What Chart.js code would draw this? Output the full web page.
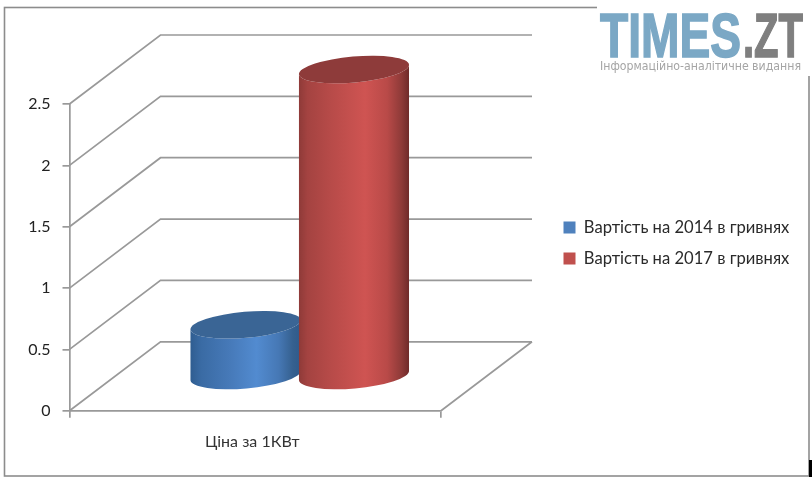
<!DOCTYPE html>
<html>
<head>
<meta charset="utf-8">
<style>html,body{margin:0;padding:0;background:#fff}canvas{display:block}</style>
<script src="https://cdn.jsdelivr.net/npm/chart.js@4"></script>
</head>
<body>
<canvas id="c" width="812" height="481"></canvas>
<script>
const categories = ['Ціна за 1КВт'];
const seriesNames = ['Вартість на 2014 в гривнях', 'Вартість на 2017 в гривнях'];
const values2014 = [0.42];
const values2017 = [2.5];
const yTickLabels = ['0', '0.5', '1', '1.5', '2', '2.5'];

const FONT = 'Lato, "Open Sans", sans-serif';
const DEPTH = {x: 91, y: -69};
const GRID = '#999999';
const TILT = -5 * Math.PI / 180;

function cylinder(ctx, bar, stops, topColor) {
  const cx = bar.x + DEPTH.x / 2 - 1, a = bar.width / 2 + 1, b = 13;
  const topY = bar.y + DEPTH.y / 2, baseY = bar.base + DEPTH.y / 2;
  const dy = Math.sin(TILT) * a, dx = Math.cos(TILT) * a;
  const g = ctx.createLinearGradient(cx - a, 0, cx + a, 0);
  stops.forEach(s => g.addColorStop(s[0], s[1]));
  ctx.fillStyle = g;
  ctx.beginPath();
  ctx.moveTo(cx - dx, topY - dy);
  ctx.lineTo(cx - dx, baseY - dy);
  ctx.ellipse(cx, baseY, a, b, TILT, Math.PI, 0, true);
  ctx.lineTo(cx + dx, topY + dy);
  ctx.ellipse(cx, topY, a, b, TILT, 0, Math.PI, false);
  ctx.closePath();
  ctx.fill();
  ctx.fillStyle = topColor;
  ctx.beginPath();
  ctx.ellipse(cx, topY, a, b, TILT, 0, Math.PI * 2);
  ctx.fill();
}

const scene = {
  id: 'scene',
  beforeDraw(chart) {
    const {ctx} = chart;
    ctx.save();
    ctx.strokeStyle = '#8c8c8c';
    ctx.lineWidth = 1.6;
    ctx.strokeRect(4.5, 7.5, 804.5, 468.5);
    ctx.restore();
  },
  beforeDatasetsDraw(chart) {
    const {ctx, chartArea: ca, scales: {y}} = chart;
    ctx.save();
    ctx.strokeStyle = GRID;
    ctx.lineWidth = 1.7;
    ctx.beginPath();
    y.ticks.forEach(t => {
      const py = y.getPixelForValue(t.value);
      ctx.moveTo(ca.left, py);
      ctx.lineTo(ca.left + DEPTH.x, py + DEPTH.y);
      ctx.lineTo(ca.right + DEPTH.x, py + DEPTH.y);
    });
    ctx.moveTo(ca.right, ca.bottom);
    ctx.lineTo(ca.right + DEPTH.x, ca.bottom + DEPTH.y);
    ctx.stroke();
    const blue = chart.getDatasetMeta(0).data[0];
    const red = chart.getDatasetMeta(1).data[0];
    cylinder(ctx, blue,
      [[0, '#2f5d90'], [0.1, '#3a6ba4'], [0.35, '#4679b8'], [0.6, '#528bd0'], [0.8, '#4678b5'], [0.93, '#35608f'], [1, '#2f5a8c']], '#3a6595');
    cylinder(ctx, red,
      [[0, '#8e3a38'], [0.08, '#a44341'], [0.3, '#b84b49'], [0.6, '#cf5452'], [0.8, '#b94a48'], [0.93, '#8e3a38'], [1, '#6e2a29']], '#8e3b3a');
    ctx.restore();
    return false;
  },
  afterLayout(chart) {
    const lg = chart.legend;
    const h = lg.height;
    lg.left = 549; lg.right = 812;
    lg.width = 263;
    lg.top = 243 - h / 2; lg.bottom = lg.top + h;
  },
  afterDraw(chart) {
    const {ctx} = chart;
    ctx.save();
    ctx.fillStyle = '#fff';
    ctx.fillRect(597, 0, 215, 76);
    ctx.textBaseline = 'alphabetic';
    ctx.lineJoin = 'miter';
    ctx.lineWidth = 1.6;
    ctx.font = 'bold 63px "Liberation Sans Narrow", "Liberation Sans", sans-serif';
    ctx.fillStyle = ctx.strokeStyle = '#7ba8c5';
    ctx.fillText('TIMES', 600, 57, 141);
    ctx.strokeText('TIMES', 600, 57, 141);
    ctx.fillStyle = ctx.strokeStyle = '#7f7f7f';
    ctx.fillText('.ZT', 743, 57, 60);
    ctx.strokeText('.ZT', 743, 57, 60);
    ctx.font = '12px "DejaVu Sans", sans-serif';
    ctx.fillStyle = '#a5a5a5';
    ctx.fillText('Інформаційно-аналітичне видання', 600, 70, 201);
    ctx.fillStyle = '#000';
    ctx.fillRect(809, 460, 3, 17);
    ctx.restore();
  }
};

new Chart(document.getElementById('c'), {
  type: 'bar',
  data: {
    labels: categories,
    datasets: [
      {label: seriesNames[0], data: values2014, backgroundColor: '#4f81bd', borderColor: '#4f81bd'},
      {label: seriesNames[1], data: values2017, backgroundColor: '#c0504d', borderColor: '#c0504d'}
    ]
  },
  plugins: [scene],
  options: {
    responsive: false,
    animation: false,
    categoryPercentage: 0.584,
    barPercentage: 1,
    layout: {padding: {top: 104, right: 224, bottom: 16, left: 0}},
    plugins: {
      title: {display: false},
      tooltip: {enabled: false},
      legend: {
        position: 'right',
        labels: {boxWidth: 12, boxHeight: 12, padding: 14.5, color: '#2a2a2a', font: {family: FONT, size: 16.6}}
      }
    },
    scales: {
      x: {
        offset: true,
        grid: {display: true, offset: true, drawOnChartArea: false, color: GRID, lineWidth: 1.7, tickLength: 7},
        border: {display: true, color: GRID, width: 1.7},
        ticks: {color: '#333', padding: 14, labelOffset: -3, font: {family: FONT, size: 16}, maxRotation: 0}
      },
      y: {
        min: 0, max: 2.5,
        afterFit(s) { s.width = 69.5; },
        grid: {drawOnChartArea: false, color: GRID, lineWidth: 1.7, tickLength: 7},
        border: {display: true, color: GRID, width: 1.7},
        ticks: {stepSize: 0.5, color: '#222', padding: 12, font: {family: FONT, size: 16},
          callback: (v, i) => yTickLabels[i]}
      }
    }
  }
});
</script>
</body>
</html>
